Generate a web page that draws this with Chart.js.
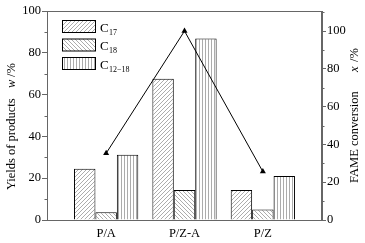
<!DOCTYPE html>
<html>
<head>
<meta charset="utf-8">
<script src="https://cdn.jsdelivr.net/npm/chart.js@4.4.1/dist/chart.umd.min.js"></script>
<style>
  html, body { margin: 0; padding: 0; background: #fff; }
  #wrap { width: 365px; height: 243px; }
</style>
</head>
<body>
<div id="wrap"><canvas id="c" width="365" height="243"></canvas></div>
<script>
/* yields of products (left axis) + FAME conversion (right axis) */
var categories = ['P/A', 'P/Z-A', 'P/Z'];
var seriesNames = ['C17', 'C18', 'C12\u221218'];
var seriesSubs  = ['17', '18', '12\u221218'];
var yieldC17    = [24.5, 67.6, 14.4];
var yieldC18    = [3.7, 14.4, 5.0];
var yieldC1218  = [31.2, 86.8, 21.0];
var conversion  = [35.3, 100, 25.6];
var leftTicks   = [0, 20, 40, 60, 80, 100];
var rightTicks  = [0, 20, 40, 60, 80, 100];

var FONT = '"Liberation Serif", "Times New Roman", serif';
var AXIS = '#666';

function hatch(kind) {
    var s = kind === 'v' ? 3 : 4;
    var cv = document.createElement('canvas');
    cv.width = s; cv.height = s;
    var g = cv.getContext('2d');
    g.fillStyle = '#fff'; g.fillRect(0, 0, s, s);
    g.strokeStyle = '#888'; g.lineWidth = 0.7;
    g.beginPath();
    if (kind === '/') {
        g.moveTo(0, s); g.lineTo(s, 0);
        g.moveTo(-1, 1); g.lineTo(1, -1);
        g.moveTo(s - 1, s + 1); g.lineTo(s + 1, s - 1);
    } else if (kind === '\\') {
        g.moveTo(0, 0); g.lineTo(s, s);
        g.moveTo(s - 1, -1); g.lineTo(s + 1, 1);
        g.moveTo(-1, s - 1); g.lineTo(1, s + 1);
    } else {
        g.moveTo(1.5, 0); g.lineTo(1.5, s);
    }
    g.stroke();
    return g.createPattern(cv, 'repeat');
}
var fills = [hatch('/'), hatch('\\'), hatch('v')];

function pts(arr) { return arr.map(function(v, i) { return { x: i + 1, y: v }; }); }

var decor = {
    id: 'decor',
    afterDraw: function(chart) {
        var ctx = chart.ctx, a = chart.chartArea;
        ctx.save();
        // frame
        ctx.strokeStyle = AXIS; ctx.lineWidth = 1;
        ctx.strokeRect(a.left + 0.5, a.top + 0.5, a.right - a.left - 1, a.bottom - a.top);
        // minor ticks
        var yl = chart.scales.y, yr = chart.scales.y1;
        ctx.beginPath();
        for (var v = 10; v < 100; v += 20) {
            var p = Math.round(yl.getPixelForValue(v)) + 0.5;
            ctx.moveTo(a.left - 2.5, p); ctx.lineTo(a.left, p);
        }
        for (var w = 10; w <= 110; w += 20) {
            var q = Math.round(yr.getPixelForValue(w)) + 0.5;
            ctx.moveTo(a.right, q); ctx.lineTo(a.right + 2.5, q);
        }
        ctx.stroke();
        // legend
        chart.data.datasets.slice(0, 3).forEach(function(ds, i) {
            var bx = 62.5, by = 20.5 + i * 18.5;
            ctx.fillStyle = ds.backgroundColor;
            ctx.fillRect(bx, by, 33, 12);
            ctx.strokeStyle = '#000'; ctx.lineWidth = 1;
            ctx.strokeRect(bx, by, 33, 12);
            ctx.fillStyle = '#000';
            ctx.textBaseline = 'alphabetic'; ctx.textAlign = 'left';
            ctx.font = '13px ' + FONT;
            ctx.fillText('C', 100, by + 11);
            ctx.font = '8px ' + FONT;
            ctx.fillText(seriesSubs[i], 109, by + 14);
        });
        // axis titles
        ctx.font = '12.5px ' + FONT;
        ctx.textBaseline = 'middle';
        ctx.save();
        ctx.translate(12, 138); ctx.rotate(-Math.PI / 2);
        ctx.textAlign = 'left';
        ctx.fillText('Yields of products', -52, 0);
        ctx.font = 'italic 12.5px ' + FONT;
        ctx.fillText('w', 50, 0);
        ctx.font = '12.5px ' + FONT;
        ctx.fillText(' /%', 58, 0);
        ctx.restore();
        ctx.save();
        ctx.translate(355, 118); ctx.rotate(-Math.PI / 2);
        ctx.textAlign = 'left';
        ctx.fillText('FAME conversion', -65, 0);
        ctx.font = 'italic 12.5px ' + FONT;
        ctx.fillText('x', 46, 0);
        ctx.font = '12.5px ' + FONT;
        ctx.fillText(' /%', 53, 0);
        ctx.restore();
        ctx.restore();
    }
};

var barBase = { type: 'bar', yAxisID: 'y', borderColor: '#000', borderWidth: 1,
                categoryPercentage: 0.82, barPercentage: 1.0, order: 2 };

new Chart(document.getElementById('c').getContext('2d'), {
    data: {
        datasets: [
            Object.assign({ label: seriesNames[0], data: pts(yieldC17),   backgroundColor: fills[0] }, barBase),
            Object.assign({ label: seriesNames[1], data: pts(yieldC18),   backgroundColor: fills[1] }, barBase),
            Object.assign({ label: seriesNames[2], data: pts(yieldC1218), backgroundColor: fills[2] }, barBase),
            { type: 'line', label: 'FAME conversion', yAxisID: 'y1', data: pts(conversion),
              borderColor: '#000', borderWidth: 1, backgroundColor: '#000',
              pointStyle: 'triangle', pointRadius: 3.5, pointBorderWidth: 0, tension: 0, order: 1 }
        ]
    },
    options: {
        responsive: false, animation: false, events: [],
        layout: { padding: { top: 11, left: 0, right: 0, bottom: 0 } },
        plugins: { legend: { display: false }, tooltip: { enabled: false } },
        scales: {
            x: {
                type: 'linear', min: 0.245, max: 3.755, offset: false,
                afterBuildTicks: function(s) { s.ticks = categories.map(function(c, i) { return { value: i + 1 }; }); },
                afterFit: function(s) { s.height = 23; },
                grid: { display: false, drawTicks: false },
                border: { display: false },
                ticks: { color: '#000', padding: 6, maxRotation: 0, autoSkip: false,
                         font: { family: FONT, size: 12.5 },
                         callback: function(v) { return categories[v - 1] || ''; } }
            },
            y: {
                position: 'left', min: 0, max: 100,
                afterBuildTicks: function(s) { s.ticks = leftTicks.map(function(v) { return { value: v }; }); },
                afterFit: function(s) { s.width = 47; },
                grid: { drawOnChartArea: false, tickLength: 5, color: AXIS },
                border: { color: AXIS },
                ticks: { color: '#000', padding: 1, font: { family: FONT, size: 12.5 } }
            },
            y1: {
                position: 'right', min: 0, max: 110.6,
                afterBuildTicks: function(s) { s.ticks = rightTicks.map(function(v) { return { value: v }; }); },
                afterFit: function(s) { s.width = 43; },
                grid: { drawOnChartArea: false, tickLength: 4, color: AXIS },
                border: { color: AXIS },
                ticks: { color: '#000', padding: 1, font: { family: FONT, size: 12.5 } }
            }
        }
    },
    plugins: [decor]
});
</script>
</body>
</html>
